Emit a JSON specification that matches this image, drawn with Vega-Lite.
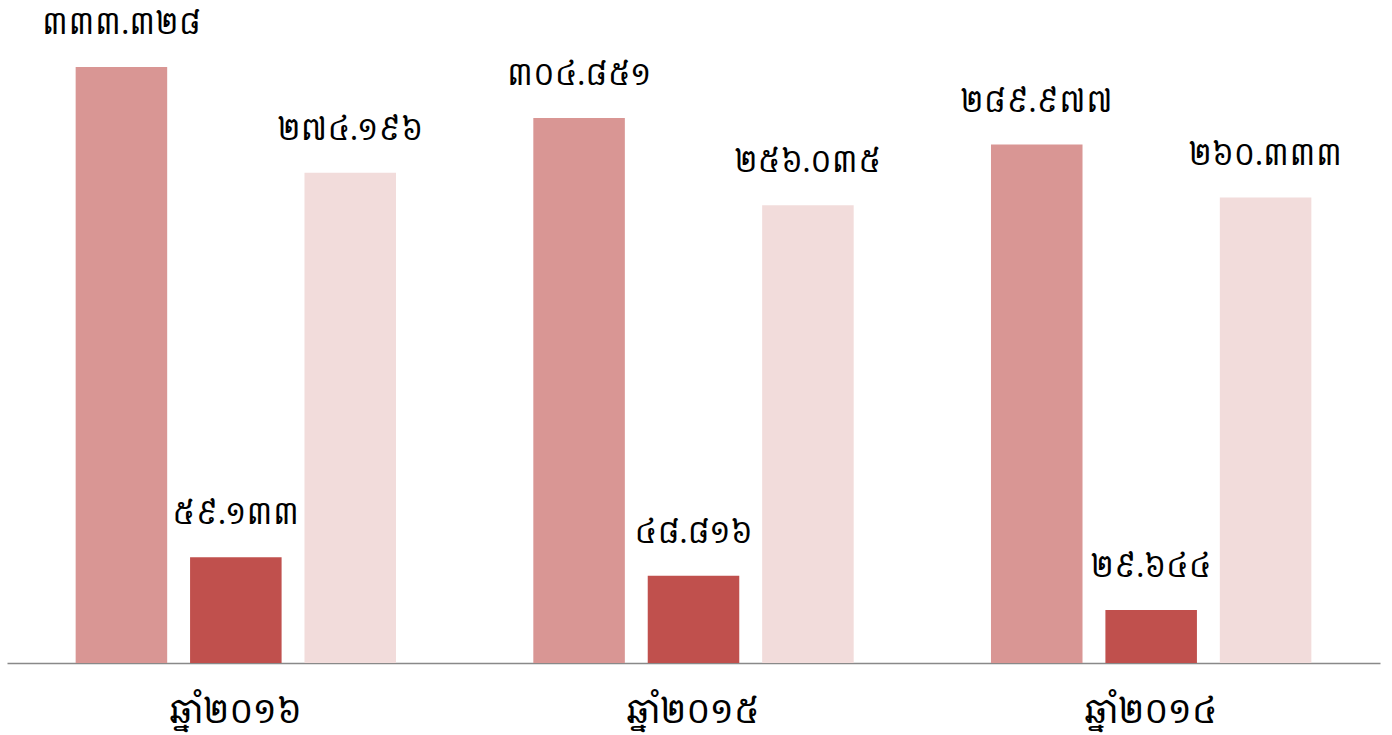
{
  "$schema": "https://vega.github.io/schema/vega-lite/v6.json",
  "width": 1373,
  "height": 663,
  "autosize": {"type": "none"},
  "padding": {"left": 7, "top": 0, "right": 12, "bottom": 72},
  "background": "white",
  "config": {"view": {"stroke": null}, "font": "Noto Serif Khmer, Khmer OS, Noto Sans Khmer, Noto Sans, DejaVu Sans"},
  "data": {
    "values": [
      {"year": "ឆ្នាំ២០១៦", "series": "a", "value": 333.328, "label": "៣៣៣.៣២៨"},
      {"year": "ឆ្នាំ២០១៦", "series": "b", "value": 59.133, "label": "៥៩.១៣៣"},
      {"year": "ឆ្នាំ២០១៦", "series": "c", "value": 274.196, "label": "២៧៤.១៩៦"},
      {"year": "ឆ្នាំ២០១៥", "series": "a", "value": 304.851, "label": "៣០៤.៨៥១"},
      {"year": "ឆ្នាំ២០១៥", "series": "b", "value": 48.816, "label": "៤៨.៨១៦"},
      {"year": "ឆ្នាំ២០១៥", "series": "c", "value": 256.035, "label": "២៥៦.០៣៥"},
      {"year": "ឆ្នាំ២០១៤", "series": "a", "value": 289.977, "label": "២៨៩.៩៧៧"},
      {"year": "ឆ្នាំ២០១៤", "series": "b", "value": 29.644, "label": "២៩.៦៤៤"},
      {"year": "ឆ្នាំ២០១៤", "series": "c", "value": 260.333, "label": "២៦០.៣៣៣"}
    ]
  },
  "encoding": {
    "x": {
      "field": "year", "type": "nominal",
      "sort": ["ឆ្នាំ២០១៦", "ឆ្នាំ២០១៥", "ឆ្នាំ២០១៤"],
      "scale": {"paddingInner": 0.3, "paddingOuter": 0.15},
      "axis": {"title": null, "labelAngle": 0, "labelFontSize": 34, "labelFontWeight": 400, "labelColor": "#000000", "labelPadding": 32, "ticks": false, "domainColor": "#898989", "domainWidth": 1.5, "grid": false}
    },
    "xOffset": {"field": "series", "type": "nominal", "sort": ["a", "b", "c"], "scale": {"paddingInner": 0.2, "paddingOuter": 0}},
    "y": {"field": "value", "type": "quantitative", "scale": {"domain": [0, 370.8], "nice": false}, "axis": null}
  },
  "layer": [
    {
      "mark": {"type": "bar"},
      "encoding": {
        "color": {"field": "series", "type": "nominal", "legend": null,
          "scale": {"domain": ["a", "b", "c"], "range": ["#D99694", "#C0504D", "#F2DCDB"]}}
      }
    },
    {
      "mark": {"type": "text", "baseline": "bottom", "dy": -27, "fontSize": 30, "fontWeight": 400, "color": "#000000"},
      "encoding": {"text": {"field": "label"}}
    }
  ]
}
